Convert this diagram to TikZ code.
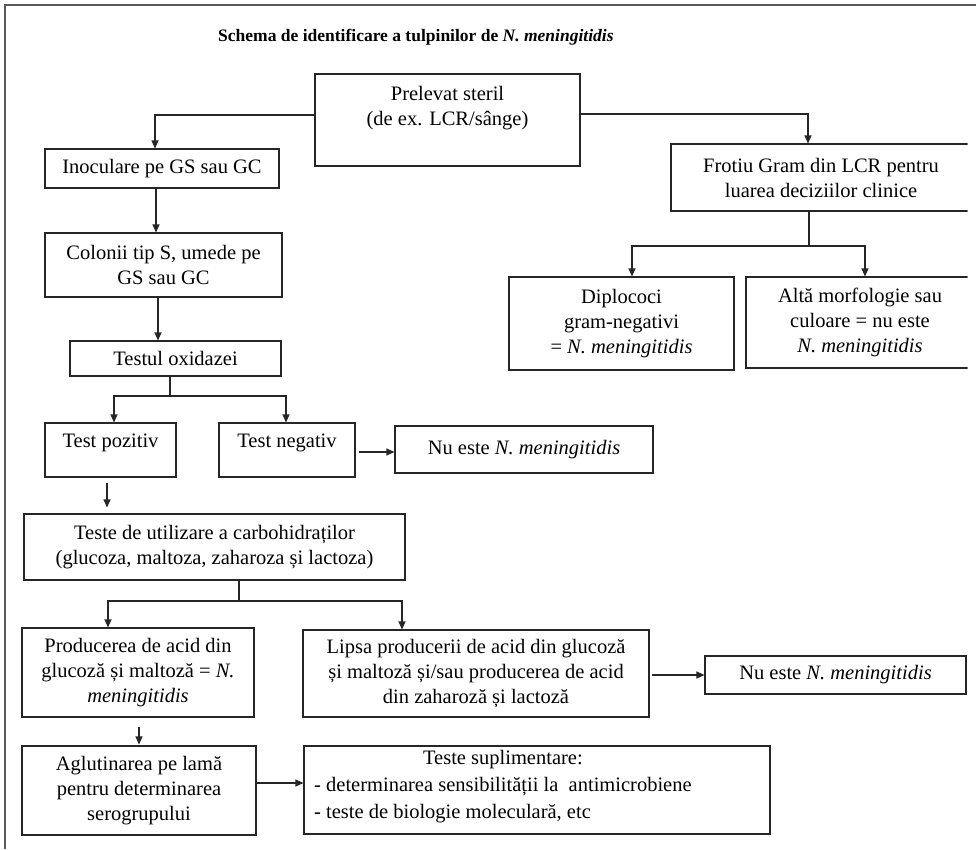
\documentclass[tikz,border=0pt]{standalone}
\usepackage{fontspec}
\setmainfont{Liberation Serif}
\usetikzlibrary{arrows.meta}
\begin{document}
\begin{tikzpicture}[x=1pt,y=-1pt,
  box/.style={draw=black!85, line width=1.1pt, inner sep=0pt, align=center, font=\fontsize{20.5}{25}\selectfont},
  txt/.style={inner sep=0pt, align=center, font=\fontsize{20.5}{25}\selectfont},
  arr/.style={draw=black!85, line width=1.1pt, -{Triangle[length=8pt,width=7pt]}},
  ln/.style={draw=black!85, line width=1.1pt}]
\useasboundingbox (0,0) rectangle (976,849);
\draw[line width=1.5pt, black!65] (5,849) -- (5,5) -- (976,5);
\node[txt, anchor=west, font=\bfseries\fontsize{17.5}{21}\selectfont] (title) at (218,37) {Schema de identificare a tulpinilor de \textit{N. meningitidis}};
\begin{scope}
\clip (0,0) rectangle (967.5,849);
% boxes
\node[box, minimum width=265pt, minimum height=92pt] (prel) at (447.5,120) {};
\node[txt] (prelT) at (447.5,108) {Prelevat steril\\(de ex. LCR/sânge)};
\node[box, minimum width=300pt, minimum height=67pt] (frot) at (821,177.5) {Frotiu Gram din LCR pentru\\luarea deciziilor clinice};
\node[box, minimum width=225pt, minimum height=93pt] (dipl) at (621.5,323.5) {Diplococi\\gram-negativi\\= \textit{N. meningitidis}};
\node[box, minimum width=228pt, minimum height=91pt] (alta) at (860,322.5) {Altă morfologie sau\\culoare = nu este\\\textit{N. meningitidis}};
\node[box, minimum width=234pt, minimum height=39pt] (inoc) at (162,168.5) {Inoculare pe GS sau GC};
\node[box, minimum width=237pt, minimum height=64pt] (colo) at (163.5,265) {Colonii tip S, umede pe\\GS sau GC};
\node[box, minimum width=211pt, minimum height=35pt] (testul) at (175.5,358.5) {Testul oxidazei};
\node[box, minimum width=131pt, minimum height=54pt] (tpoz) at (110.5,450) {};
\node[txt] (tpozT) at (110.5,443) {Test pozitiv};
\node[box, minimum width=136pt, minimum height=54pt] (tneg) at (287,450) {};
\node[txt] (tnegT) at (287,443) {Test negativ};
\node[box, minimum width=258pt, minimum height=47pt] (nu1) at (524,449.5) {Nu este \textit{N. meningitidis}};
\node[box, minimum width=381pt, minimum height=66pt] (teste) at (214.5,547) {Teste de utilizare a carbohidraților\\(glucoza, maltoza, zaharoza și lactoza)};
\node[box, minimum width=232pt, minimum height=89pt] (prod) at (138,672.5) {Producerea de acid din\\glucoză și maltoză = \textit{N.}\\\textit{meningitidis}};
\node[box, minimum width=346pt, minimum height=87pt] (lipsa) at (476,673.5) {Lipsa producerii de acid din glucoză\\și maltoză și/sau producerea de acid\\din zaharoză și lactoză};
\node[box, minimum width=261pt, minimum height=38pt] (nu2) at (835.5,675) {Nu este \textit{N. meningitidis}};
\node[box, minimum width=234pt, minimum height=89pt] (aglu) at (139,790.5) {Aglutinarea pe lamă\\pentru determinarea\\serogrupului};
\node[box, minimum width=466pt, minimum height=88pt] (supl) at (537,790) {};
\node[txt, anchor=west] (suplT) at (314,786) {\renewcommand{\arraystretch}{1.08}\begin{tabular}{@{}l@{}}\multicolumn{1}{@{}c@{}}{Teste suplimentare:}\\- determinarea sensibilității la\ \ antimicrobiene\\- teste de biologie moleculară, etc\end{tabular}};
\end{scope}
% junctions
\coordinate (j1) at (170,396);
\coordinate (j2) at (809,246);
\coordinate (j3) at (239,601);
% connectors
\draw[arr] (prel.west |- 0,115) -| (inoc.north -| 155,0);
\draw[arr] (prel.east |- 0,114) -| (frot.north -| 808,0);
\draw[ln] (frot.south -| j2) -- (j2);
\draw[arr] (j2) -| (dipl.north -| 632,0);
\draw[arr] (j2) -| (alta.north -| 865,0);
\draw[arr] (inoc.south -| 156,0) -- (colo.north -| 156,0);
\draw[arr] (colo.south -| 158,0) -- (testul.north -| 158,0);
\draw[ln] (testul.south -| j1) -- (j1);
\draw[arr] (j1) -| (tpoz.north -| 114,0);
\draw[arr] (j1) -| (tneg.north -| 286,0);
\draw[arr, shorten <=3pt] (tneg.east |- 0,452) -- (nu1.west |- 0,452);
\draw[arr, shorten <=5pt, shorten >=6pt] (tpoz.south -| 107,0) -- (teste.north -| 107,0);
\draw[ln] (teste.south -| j3) -- (j3);
\draw[arr] (j3) -| (prod.north -| 108,0);
\draw[arr] (j3) -| (lipsa.north -| 402,0);
\draw[arr, shorten <=2pt] (lipsa.east |- 0,675) -- (nu2.west |- 0,675);
\draw[arr, shorten <=9pt, shorten >=1pt] (prod.south -| 139,0) -- (aglu.north -| 139,0);
\draw[arr] (aglu.east |- 0,783) -- (supl.west |- 0,783);
\end{tikzpicture}
\end{document}
